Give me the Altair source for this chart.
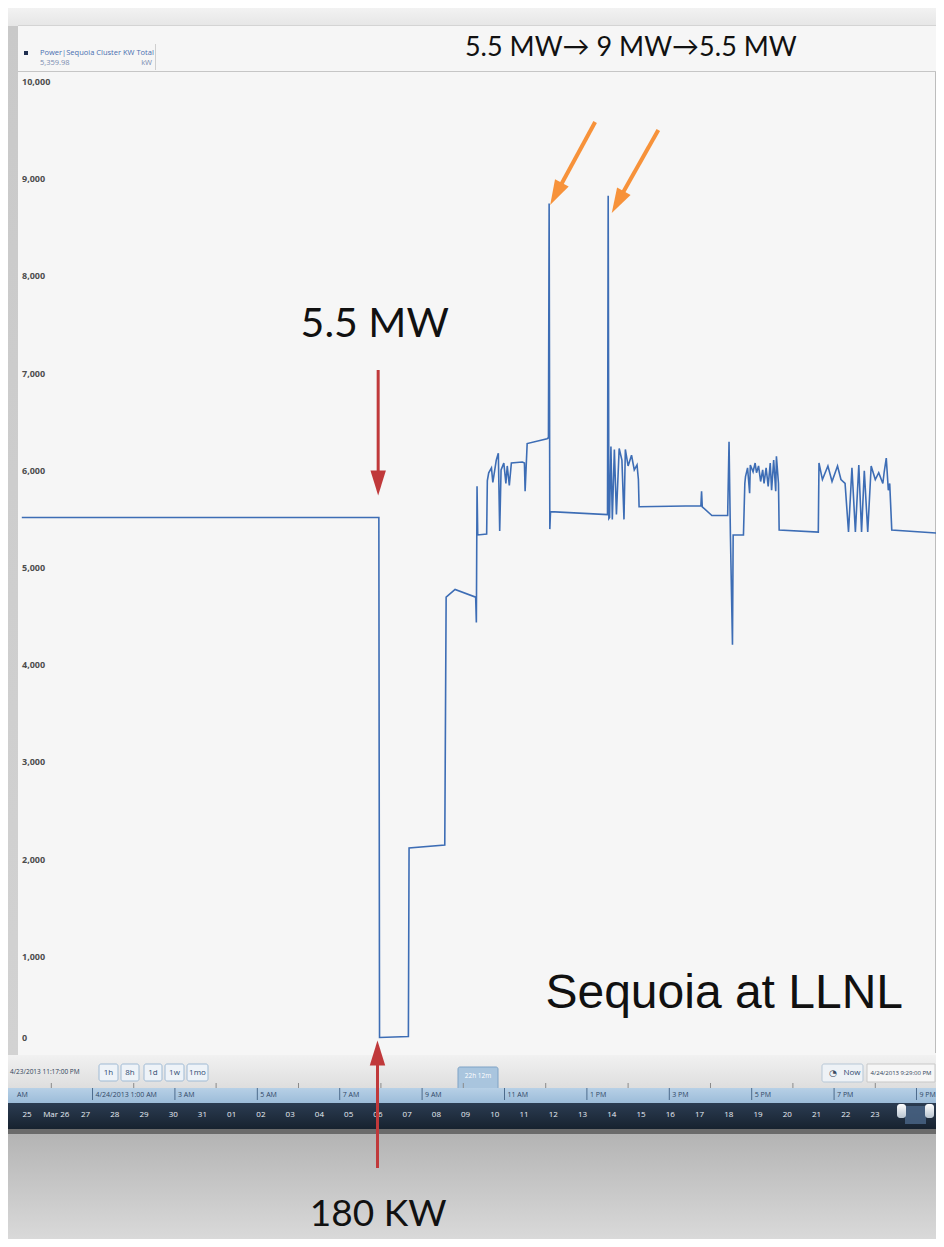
import altair as alt
import pandas as pd

# ---------------- data ----------------
times = [
    "2013-04-23T23:17", "2013-04-24T07:57", "2013-04-24T07:58", "2013-04-24T08:40",
    "2013-04-24T08:41", "2013-04-24T09:33", "2013-04-24T09:35", "2013-04-24T09:48",
    "2013-04-24T10:18", "2013-04-24T10:19", "2013-04-24T10:20", "2013-04-24T10:21",
    "2013-04-24T10:34", "2013-04-24T10:35", "2013-04-24T10:37", "2013-04-24T10:41",
    "2013-04-24T10:43", "2013-04-24T10:48", "2013-04-24T10:51", "2013-04-24T10:53",
    "2013-04-24T10:55", "2013-04-24T10:59", "2013-04-24T11:02", "2013-04-24T11:04",
    "2013-04-24T11:07", "2013-04-24T11:10", "2013-04-24T11:26", "2013-04-24T11:29",
    "2013-04-24T11:30", "2013-04-24T11:33", "2013-04-24T12:02", "2013-04-24T12:04",
    "2013-04-24T12:05", "2013-04-24T12:06", "2013-04-24T12:07", "2013-04-24T13:30",
    "2013-04-24T13:31", "2013-04-24T13:32", "2013-04-24T13:33", "2013-04-24T13:35",
    "2013-04-24T13:37", "2013-04-24T13:40", "2013-04-24T13:43", "2013-04-24T13:47",
    "2013-04-24T13:51", "2013-04-24T13:54", "2013-04-24T13:56", "2013-04-24T14:00",
    "2013-04-24T14:05", "2013-04-24T14:09", "2013-04-24T14:13", "2013-04-24T14:15",
    "2013-04-24T14:16", "2013-04-24T15:46", "2013-04-24T15:47", "2013-04-24T15:48",
    "2013-04-24T16:02", "2013-04-24T16:25", "2013-04-24T16:27", "2013-04-24T16:29",
    "2013-04-24T16:32", "2013-04-24T16:33", "2013-04-24T16:48", "2013-04-24T16:50",
    "2013-04-24T16:51", "2013-04-24T16:54", "2013-04-24T16:57", "2013-04-24T16:58",
    "2013-04-24T17:02", "2013-04-24T17:05", "2013-04-24T17:07", "2013-04-24T17:10",
    "2013-04-24T17:13", "2013-04-24T17:16", "2013-04-24T17:18", "2013-04-24T17:21",
    "2013-04-24T17:24", "2013-04-24T17:27", "2013-04-24T17:29", "2013-04-24T17:32",
    "2013-04-24T17:35", "2013-04-24T17:36", "2013-04-24T17:39", "2013-04-24T17:40",
    "2013-04-24T18:37", "2013-04-24T18:38", "2013-04-24T18:43", "2013-04-24T18:51",
    "2013-04-24T18:57", "2013-04-24T19:05", "2013-04-24T19:10", "2013-04-24T19:16",
    "2013-04-24T19:21", "2013-04-24T19:26", "2013-04-24T19:31", "2013-04-24T19:36",
    "2013-04-24T19:40", "2013-04-24T19:44", "2013-04-24T19:49", "2013-04-24T19:54",
    "2013-04-24T20:00", "2013-04-24T20:05", "2013-04-24T20:11", "2013-04-24T20:13",
    "2013-04-24T20:16", "2013-04-24T20:19", "2013-04-24T20:21", "2013-04-24T20:24",
    "2013-04-24T21:29",
]
kw = [
    5520, 5520, 170, 180,
    2120, 2150, 4700, 4780,
    4700, 4440, 5840, 5340,
    5350, 5900, 5980, 6030,
    5880, 6110, 6180, 5380,
    6010, 6080, 5870, 6050,
    5850, 6080, 6090, 6080,
    5790, 6280, 6330, 6340,
    8750, 5400, 5580, 5550,
    8830, 5510, 5520, 6250,
    5500, 6220, 5550, 6230,
    6110, 5500, 6220, 6050,
    6160, 6010, 6060, 5910,
    5630, 5640, 5790, 5630,
    5540, 5540, 6300, 5340,
    4210, 5340, 5340, 5870,
    5940, 6030, 5770, 6060,
    5990, 6080, 5980, 6050,
    5890, 6010, 5870, 6030,
    5840, 6080, 5800, 6110,
    5790, 6150, 5870, 5390,
    5370, 6080, 5910, 6050,
    5890, 6050, 5910, 5870,
    5370, 6030, 5370, 6060,
    5370, 6000, 5370, 6050,
    5910, 5980, 5870, 5990,
    6130, 5800, 5870, 5390,
    5360,
]

y_ticks = [0, 1000, 2000, 3000, 4000, 5000, 6000, 7000, 8000, 9000, 10000]

hour_times = ["2013-04-24T01:00", "2013-04-24T03:00", "2013-04-24T05:00", "2013-04-24T07:00",
              "2013-04-24T09:00", "2013-04-24T11:00", "2013-04-24T13:00", "2013-04-24T15:00",
              "2013-04-24T17:00", "2013-04-24T19:00", "2013-04-24T21:00"]
hour_labels = ["4/24/2013 1:00 AM", "3 AM", "5 AM", "7 AM", "9 AM", "11 AM",
               "1 PM", "3 PM", "5 PM", "7 PM", "9 PM"]
minor_times = ["2013-04-24T00:00", "2013-04-24T02:00", "2013-04-24T04:00", "2013-04-24T06:00",
               "2013-04-24T08:00", "2013-04-24T10:00", "2013-04-24T12:00", "2013-04-24T14:00",
               "2013-04-24T16:00", "2013-04-24T18:00", "2013-04-24T20:00"]

day_dates = ["2013-03-25T00:00", "2013-03-26T00:00", "2013-03-27T00:00", "2013-03-28T00:00",
             "2013-03-29T00:00", "2013-03-30T00:00", "2013-03-31T00:00", "2013-04-01T00:00",
             "2013-04-02T00:00", "2013-04-03T00:00", "2013-04-04T00:00", "2013-04-05T00:00",
             "2013-04-06T00:00", "2013-04-07T00:00", "2013-04-08T00:00", "2013-04-09T00:00",
             "2013-04-10T00:00", "2013-04-11T00:00", "2013-04-12T00:00", "2013-04-13T00:00",
             "2013-04-14T00:00", "2013-04-15T00:00", "2013-04-16T00:00", "2013-04-17T00:00",
             "2013-04-18T00:00", "2013-04-19T00:00", "2013-04-20T00:00", "2013-04-21T00:00",
             "2013-04-22T00:00", "2013-04-23T00:00"]
day_labels = ["25", "Mar 26", "27", "28", "29", "30", "31", "01", "02", "03", "04", "05",
              "06", "07", "08", "09", "10", "11", "12", "13", "14", "15", "16", "17",
              "18", "19", "20", "21", "22", "23"]

# annotation anchors (time, kW)
ann_text_t = ["2013-04-24T07:51", "2013-04-24T14:04", "2013-04-24T16:20", "2013-04-24T07:56"]
ann_text_v = [7500, 10350, 620, -1656]
ann_text_s = ["5.5 MW", "5.5 MW\u2192 9 MW\u21925.5 MW", "Sequoia at LLNL", "180 KW"]

# ---------------- scales ----------------
XS = alt.Scale(domain=[alt.DateTime(year=2013, month=4, date=23, hours=23, minutes=17),
                       alt.DateTime(year=2013, month=4, date=24, hours=21, minutes=29)],
               range=[13.8, 928.4], nice=False)
YS = alt.Scale(domain=[0, 10000], range=[1046, 74], nice=False, zero=False)
DS = alt.Scale(domain=[alt.DateTime(year=2013, month=3, date=25),
                       alt.DateTime(year=2013, month=4, date=23)],
               range=[19, 867], nice=False)

one = pd.DataFrame({"k": [0]})


def box(x1, x2, y1, y2, fill, stroke=None, sw=1.0, corner=0, opacity=1.0):
    props = dict(fill=fill, cornerRadius=corner, opacity=opacity)
    if stroke is not None:
        props.update(stroke=stroke, strokeWidth=sw)
    else:
        props.update(strokeWidth=0)
    return alt.Chart(one).mark_rect(**props).encode(
        x=alt.value(x1 - 8), x2=alt.value(x2 - 8), y=alt.value(y1 - 8), y2=alt.value(y2 - 8))


def label(x, y, s, size, color, font="Open Sans", align="left", weight="normal"):
    return alt.Chart(one).mark_text(text=s, fontSize=size, color=color, font=font, align=align,
                                    baseline="middle", fontWeight=weight).encode(
        x=alt.value(x - 8), y=alt.value(y - 8))


def grad(c1, c2):
    return {"gradient": "linear", "x1": 0, "y1": 0, "x2": 0, "y2": 1,
            "stops": [{"offset": 0, "color": c1}, {"offset": 1, "color": c2}]}


layers = []
# backgrounds
layers.append(box(8, 944, 8, 26, grad("#f2f2f2", "#e6e6e6")))
layers.append(box(18, 944, 25, 1056, "#f6f6f6"))
layers.append(box(18, 944, 25, 26, "#d4d4d4"))
layers.append(box(18, 940, 71, 72, "#c6c6c6"))
layers.append(box(935, 936, 72, 1053, "#bdbdbd"))

# legend block
layers.append(box(24, 28, 51, 55, "#1f2f4f"))
layers.append(label(40, 53, "Power|Sequoia Cluster KW Total", 7.5, "#4a6fb0"))
layers.append(label(40, 63, "5,359.98", 7.5, "#7a8cb0"))
layers.append(label(152, 63, "kW", 7.5, "#7a8cb0", align="right"))
layers.append(box(155, 156, 44, 70, "#cfcfcf"))

# y tick labels (drawn through the y scale)
ticks_df = pd.DataFrame({"v": y_ticks})
layers.append(alt.Chart(ticks_df).transform_filter("datum.v > 0").mark_text(
    align="left", baseline="middle", font="Open Sans", fontSize=9, fontWeight="bold",
    color="#4d4d4d").encode(
    x=alt.value(14), y=alt.Y("v:Q", scale=YS, axis=None), text=alt.Text("v:Q", format=",")))
layers.append(alt.Chart(ticks_df).transform_filter("datum.v == 0").mark_text(
    align="left", baseline="middle", font="Open Sans", fontSize=9, fontWeight="bold",
    color="#4d4d4d", dy=-16).encode(
    x=alt.value(14), y=alt.Y("v:Q", scale=YS, axis=None), text=alt.Text("v:Q", format=",")))

# main line
df = pd.DataFrame({"t": times, "kw": kw})
line = alt.Chart(df).mark_line(color="#3d6db5", strokeWidth=1.6).encode(
    x=alt.X("t:T", scale=XS, axis=None),
    y=alt.Y("kw:Q", scale=YS, axis=None),
)
layers.append(line)


# arrows
def arrow_shaft(t1, v1, t2, v2, color, width):
    d = pd.DataFrame({"t1": [t1], "v1": [v1], "t2": [t2], "v2": [v2]})
    return alt.Chart(d).mark_rule(color=color, strokeWidth=width).encode(
        x=alt.X("t1:T", scale=XS, axis=None), y=alt.Y("v1:Q", scale=YS, axis=None),
        x2="t2:T", y2="v2:Q")


def arrow_head(t, v, color, angle, size=620):
    d = pd.DataFrame({"t": [t], "v": [v]})
    return alt.Chart(d).mark_point(shape="M0,-1L0.62,1L-0.62,1Z", filled=True, color=color,
                                   opacity=1, size=size, angle=angle).encode(
        x=alt.X("t:T", scale=XS, axis=None), y=alt.Y("v:Q", scale=YS, axis=None))


RED = "#c0393b"
ORANGE = "#f7923a"
layers.append(arrow_shaft("2013-04-24T07:56", 7037, "2013-04-24T07:56", 5900, RED, 3))
layers.append(arrow_head("2013-04-24T07:56", 5874, RED, 180))
layers.append(arrow_shaft("2013-04-24T13:12", 9588, "2013-04-24T12:16", 8860, ORANGE, 4))
layers.append(arrow_head("2013-04-24T12:15", 8848, ORANGE, 208))
layers.append(arrow_shaft("2013-04-24T14:44", 9506, "2013-04-24T13:46", 8780, ORANGE, 4))
layers.append(arrow_head("2013-04-24T13:45", 8765, ORANGE, 209))

# annotation texts
ann = pd.DataFrame({"t": ann_text_t, "v": ann_text_v, "s": ann_text_s})
fonts = ["Lato", "Lato", "Liberation Sans", "Lato"]
sizes = [41, 27, 48, 37]
for i in range(3):
    layers.append(alt.Chart(ann.iloc[[i]]).mark_text(
        font=fonts[i], fontSize=sizes[i], color="#111111", align="center", baseline="middle").encode(
        x=alt.X("t:T", scale=XS, axis=None), y=alt.Y("v:Q", scale=YS, axis=None), text="s:N"))

# time bar: row 1 (controls)
layers.append(box(8, 944, 1055, 1088, grad("#f1f1f1", "#dedede")))
layers.append(label(10, 1072, "4/23/2013 11:17:00 PM", 6.5, "#2e3f58"))
for bx1, bx2, bt in [(99, 118, "1h"), (121, 139, "8h"), (144, 162, "1d"), (165, 184, "1w"), (187, 208, "1mo")]:
    layers.append(box(bx1, bx2, 1064, 1081, "#eef3f8", stroke="#9fbad4", sw=1, corner=2))
    layers.append(label((bx1 + bx2) / 2, 1072.5, bt, 8, "#2e4a70", align="center"))
layers.append(box(458, 498, 1067, 1092, "#a9c5de", stroke="#7fa3c6", sw=1, corner=2))
layers.append(label(478, 1076, "22h 12m", 6.5, "#ffffff", align="center"))
layers.append(box(822, 863, 1064, 1082, "#eef2f6", stroke="#b7c7d6", sw=1, corner=2))
layers.append(label(833, 1073, "\u25d4", 9, "#3a4a60", font="DejaVu Sans", align="center"))
layers.append(label(852, 1073, "Now", 8, "#2e4a70", align="center"))
layers.append(box(867, 935, 1064, 1082, "#f6f6f6", stroke="#c8c8c8", sw=1))
layers.append(label(901, 1073, "4/24/2013 9:29:00 PM", 6, "#2e3f58", align="center"))

# minor ticks above row 2
minor = pd.DataFrame({"t": minor_times})
layers.append(alt.Chart(minor).mark_rule(color="#8a8a8a", strokeWidth=1).encode(
    x=alt.X("t:T", scale=XS, axis=None), y=alt.value(1083 - 8), y2=alt.value(1088 - 8)))

# row 2 (hours)
layers.append(box(8, 944, 1088, 1103, grad("#b7d0e6", "#9cbcd9")))
hours = pd.DataFrame({"t": hour_times, "lab": hour_labels})
layers.append(alt.Chart(hours).mark_rule(color="#4d6b8c", strokeWidth=1).encode(
    x=alt.X("t:T", scale=XS, axis=None), y=alt.value(1088 - 8), y2=alt.value(1100 - 8)))
layers.append(alt.Chart(hours).mark_text(align="left", dx=3, fontSize=7, font="Open Sans",
                                         color="#2f4766", baseline="middle").encode(
    x=alt.X("t:T", scale=XS, axis=None), y=alt.value(1095 - 8), text="lab:N"))
layers.append(label(17, 1095, "AM", 7, "#2f4766"))

# row 3 (days)
layers.append(box(8, 944, 1103, 1129, grad("#2b3c52", "#17222f")))
days = pd.DataFrame({"d": day_dates, "lab": day_labels})
layers.append(alt.Chart(days).mark_text(fontSize=8, font="Open Sans", color="#e8eef5",
                                        baseline="middle").encode(
    x=alt.X("d:T", scale=DS, axis=None), y=alt.value(1115 - 8), text="lab:N"))
layers.append(box(905, 926, 1106, 1124, "#4b6688", opacity=0.8))
layers.append(box(897, 906, 1104, 1118, grad("#ffffff", "#b8c4d0"), corner=3))
layers.append(box(925, 934, 1104, 1118, grad("#ffffff", "#b8c4d0"), corner=3))

# bottom region
layers.append(box(8, 944, 1129, 1134, "#6b6b6b"))
layers.append(box(8, 944, 1134, 1247, grad("#b4b4b4", "#dcdcdc")))
layers.append(box(0, 18, 26, 1055, grad("#c9c9c9", "#d2d2d2")))

# red arrow from the bottom and its label (drawn on top of the bar)
layers.append(arrow_shaft("2013-04-24T07:55", -1173, "2013-04-24T07:55", -80, RED, 3))
layers.append(arrow_head("2013-04-24T07:55", 10, RED, 0))
layers.append(alt.Chart(ann.iloc[[3]]).mark_text(
    font="Lato", fontSize=sizes[3], color="#111111", align="center", baseline="middle").encode(
    x=alt.X("t:T", scale=XS, axis=None), y=alt.Y("v:Q", scale=YS, axis=None), text="s:N"))

chart = alt.layer(*layers).resolve_scale(x="independent").properties(
    width=928, height=1231, autosize=alt.AutoSizeParams(type="none"), padding=0,
    background="#d0d0d0",
).configure_view(stroke=None)

chart.save("out.html", embed_options={"renderer": "svg", "actions": False})
